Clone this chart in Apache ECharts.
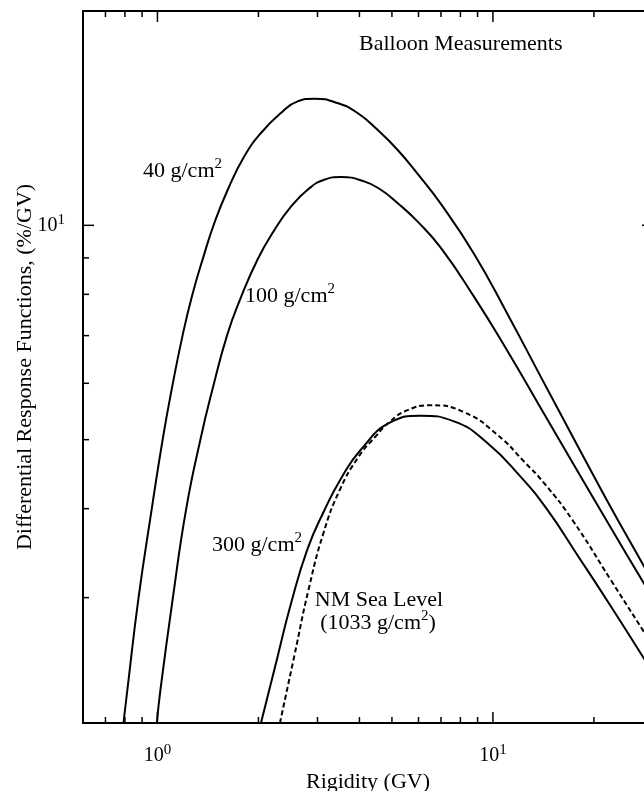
<!DOCTYPE html>
<html lang="en">
<head>
<meta charset="UTF-8">
<title>Differential Response Functions</title>
<style>
  html, body { margin: 0; padding: 0; background: #fff; }
  #container { width: 644px; height: 791px; }
</style>
</head>
<body>
<div id="container"></div>
<script src="https://cdn.jsdelivr.net/npm/echarts@6/dist/echarts.min.js"></script>
<script>
// axis ranges (log-log)
const xMin = 0.6, xMax = 30;
const yMin = 2, yMax = 20;

// tick values
const xMajorTicks = [1, 10];
const xMinorTicks = [0.7, 0.8, 0.9, 2, 3, 4, 5, 6, 7, 8, 9, 20];
const yMajorTicks = [10];
const yMinorTicks = [3, 4, 5, 6, 7, 8, 9];

// curves: [rigidity (GV), response (%/GV)]
const depth40 = [
  [0.792, 2.00], [0.8136, 2.227], [0.8779, 2.992], [0.961, 3.987], [1.0363, 4.999],
  [1.1022, 5.877], [1.1885, 7.005], [1.2685, 7.965], [1.3725, 9.045], [1.478, 10.076],
  [1.6203, 11.22], [1.8154, 12.50], [2.0352, 13.48], [2.3342, 14.38], [2.617, 14.93],
  [2.933, 15.06], [3.4435, 14.85], [3.9486, 14.38], [4.529, 13.62], [5.194, 12.77],
  [5.957, 11.82], [6.988, 10.725], [8.779, 9.124], [11.037, 7.515], [13.866, 6.136],
  [17.42, 5.015], [21.90, 4.105], [28.14, 3.326], [30, 3.153]
];
const depth100 = [
  [0.9959, 2.00], [1.0208, 2.227], [1.1112, 2.992], [1.2172, 3.987], [1.3427, 4.999],
  [1.458, 5.877], [1.6127, 7.005], [1.7627, 7.863], [1.9898, 8.963], [2.2295, 9.844],
  [2.4999, 10.621], [2.8035, 11.22], [3.1408, 11.59], [3.5223, 11.69], [4.1306, 11.527],
  [4.6325, 11.22], [5.194, 10.75], [5.957, 10.128], [6.988, 9.303], [8.779, 7.94],
  [11.037, 6.666], [13.866, 5.544], [17.42, 4.611], [22.10, 3.809], [28.14, 3.145], [30, 2.99]
];
const depth300 = [
  [2.0352, 2.00], [2.282, 2.4806], [2.4999, 2.9415], [2.8035, 3.5146], [3.1408, 3.9737],
  [3.5223, 4.4077], [4.0382, 4.8398], [4.96, 5.2904], [6.093, 5.4034], [7.6549, 5.3048],
  [9.6236, 4.9458], [12.088, 4.4363], [14.519, 3.9866], [17.906, 3.4356], [22.508, 2.9131],
  [28.14, 2.4678], [30, 2.3534]
];
const seaLevel = [
  [2.3183, 2.00], [2.5569, 2.481], [2.8209, 3.0781], [3.1259, 3.6979], [3.4981, 4.2535],
  [3.9838, 4.7364], [4.4612, 5.0479], [4.9266, 5.2989], [5.5636, 5.5003], [6.5249, 5.587],
  [8.1986, 5.4649], [10.306, 5.0807], [12.37, 4.6608], [14.253, 4.3369], [17.233, 3.8596],
  [22.508, 3.1706], [28.14, 2.6894], [30, 2.568]
];

const FONT = '"Liberation Serif", "Times New Roman", serif';
const supRich = {
  n: { fontFamily: FONT, fontSize: 22, lineHeight: 28, color: '#000' },
  s: { fontFamily: FONT, fontSize: 15, lineHeight: 15, verticalAlign: 'top', color: '#000' }
};
const tickRich = {
  n: { fontFamily: FONT, fontSize: 20, lineHeight: 26, color: '#000' },
  s: { fontFamily: FONT, fontSize: 15, lineHeight: 15, verticalAlign: 'top', color: '#000' }
};

function powerLabel(v) {
  const e = Math.log10(v);
  if (Math.abs(e - Math.round(e)) > 1e-6) return '';
  return '{n|10}{s|' + Math.round(e) + '}';
}

function curve(data, dashed) {
  return {
    type: 'line',
    data: data,
    smooth: 0.5,
    showSymbol: false,
    silent: true,
    clip: true,
    lineStyle: { color: '#000', width: 2, type: dashed ? [5, 3] : 'solid' }
  };
}

// inward ticks, mirrored on the opposite side of the frame
function xTicks(values, len) {
  return {
    type: 'custom',
    silent: true,
    data: values.map(v => [v, yMin]),
    renderItem: function (params, api) {
      const v = api.value(0);
      const b = api.coord([v, yMin]);
      const t = api.coord([v, yMax]);
      const st = { stroke: '#000', lineWidth: 1.5 };
      return { type: 'group', children: [
        { type: 'line', shape: { x1: b[0], y1: b[1], x2: b[0], y2: b[1] - len }, style: st },
        { type: 'line', shape: { x1: t[0], y1: t[1], x2: t[0], y2: t[1] + len }, style: st }
      ] };
    }
  };
}
function yTicks(values, len) {
  return {
    type: 'custom',
    silent: true,
    data: values.map(v => [xMin, v]),
    renderItem: function (params, api) {
      const v = api.value(1);
      const l = api.coord([xMin, v]);
      const r = api.coord([xMax, v]);
      const st = { stroke: '#000', lineWidth: 1.5 };
      return { type: 'group', children: [
        { type: 'line', shape: { x1: l[0], y1: l[1], x2: l[0] + len, y2: l[1] }, style: st },
        { type: 'line', shape: { x1: r[0], y1: r[1], x2: r[0] - len, y2: r[1] }, style: st }
      ] };
    }
  };
}

function note(x, y, text, align) {
  return {
    type: 'text', x: x, y: y, silent: true,
    style: { text: text, rich: supRich, fontFamily: FONT, fontSize: 22, fill: '#000',
             align: align || 'left', verticalAlign: 'middle' }
  };
}

const option = {
  animation: false,
  backgroundColor: '#fff',
  grid: {
    left: 83, right: -9, top: 11, bottom: 68,
    show: true, borderColor: '#000', borderWidth: 2,
    outerBoundsMode: 'none'
  },
  xAxis: {
    type: 'log', logBase: 10, min: xMin, max: xMax,
    name: 'Rigidity (GV)', nameLocation: 'middle', nameGap: 48, nameMoveOverlap: false,
    nameTextStyle: { fontFamily: FONT, fontSize: 22, color: '#000' },
    axisLine: { show: false }, axisTick: { show: false }, splitLine: { show: false },
    axisLabel: { margin: 20, formatter: powerLabel, rich: tickRich, showMinLabel: false, showMaxLabel: false }
  },
  yAxis: {
    type: 'log', logBase: 10, min: yMin, max: yMax,
    name: 'Differential Response Functions, (%/GV)', nameLocation: 'middle', nameGap: 47, nameMoveOverlap: false,
    nameTextStyle: { fontFamily: FONT, fontSize: 22, color: '#000' },
    axisLine: { show: false }, axisTick: { show: false }, splitLine: { show: false },
    axisLabel: { margin: 18, formatter: powerLabel, rich: tickRich, showMinLabel: false, showMaxLabel: false }
  },
  series: [
    curve(depth40, false),
    curve(depth100, false),
    curve(depth300, false),
    curve(seaLevel, true),
    xTicks(xMajorTicks, 11),
    xTicks(xMinorTicks, 6),
    yTicks(yMajorTicks, 11),
    yTicks(yMinorTicks, 6)
  ],
  graphic: [
    note(359, 44, 'Balloon Measurements'),
    note(143, 171, '{n|40 g/cm}{s|2}'),
    note(245, 296, '{n|100 g/cm}{s|2}'),
    note(212, 545, '{n|300 g/cm}{s|2}'),
    note(379, 600, 'NM Sea Level', 'center'),
    note(378, 623, '{n|(1033 g/cm}{s|2}{n|)}', 'center')
  ]
};

const chart = echarts.init(document.getElementById('container'));
chart.setOption(option);
</script>
</body>
</html>
